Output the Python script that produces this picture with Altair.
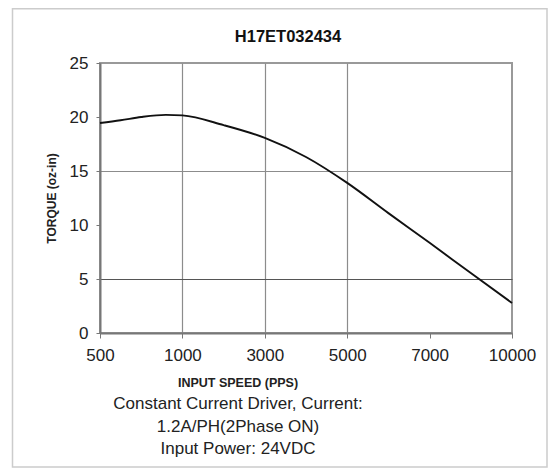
import json
import altair as alt
import pandas as pd

# ---- data ----
speed_labels = ["500", "1000", "3000", "5000", "7000", "10000"]
# positions along the evenly spaced speed axis (category index units)
curve_pos = [0, 0.25, 0.5, 0.8, 1.0, 1.5, 2.0, 2.5, 3.0, 3.5, 4.0, 4.5, 5.0]
torque = [19.45, 19.7, 20.0, 20.2, 20.15, 19.25, 18.07, 16.3, 13.9, 11.1, 8.35, 5.55, 2.78]
y_ticks = [0, 5, 10, 15, 20, 25]
vgrid_pos = [1, 2, 3]
hgrid_light = [15]
hgrid_dark = [5]
title_text = "H17ET032434"
x_title = "INPUT SPEED (PPS)"
y_title = "TORQUE (oz-in)"
note_lines = ["Constant Current Driver, Current:", "1.2A/PH(2Phase ON)", "Input Power: 24VDC"]

FONT = "Liberation Sans"
W, H = 412, 270

df = pd.DataFrame({"pos": curve_pos, "torque": torque})
one = pd.DataFrame({"k": [0]})

xscale = alt.Scale(domain=[0, 5], nice=False, zero=False)
yscale = alt.Scale(domain=[0, 25], nice=False)

label_expr = json.dumps(speed_labels) + "[round(datum.value)]"
vtest = "indexof(" + json.dumps(vgrid_pos) + ", datum.value) >= 0"
htest_all = "indexof(" + json.dumps(hgrid_light + hgrid_dark) + ", datum.value) >= 0"
htest_dark = "indexof(" + json.dumps(hgrid_dark) + ", datum.value) >= 0"

xaxis = alt.Axis(values=list(range(len(speed_labels))), labelExpr=label_expr, grid=True,
                 gridColor="#8c8c8c", gridWidth=1.2,
                 gridOpacity={"condition": {"test": vtest, "value": 1}, "value": 0},
                 title=None, labelFont=FONT, labelFontSize=17, labelColor="#222",
                 tickSize=5, tickColor="#777", domainColor="#777", domainWidth=2,
                 labelPadding=9, labelFlush=False)
yaxis = alt.Axis(values=y_ticks, grid=True,
                 gridColor={"condition": {"test": htest_dark, "value": "#555555"}, "value": "#8c8c8c"},
                 gridOpacity={"condition": {"test": htest_all, "value": 1}, "value": 0},
                 gridWidth=1.2,
                 title=y_title, titleFont=FONT, titleFontSize=12,
                 titleFontWeight="bold", titleColor="#222", titleX=-49, titleY=H / 2,
                 titleAngle=270, titleAlign="center", titleBaseline="middle",
                 labelFont=FONT, labelFontSize=17, labelColor="#222", tickSize=4,
                 tickColor="#777", domainColor="#777", domainWidth=2, labelPadding=8)

line = alt.Chart(df).mark_line(color="#111", strokeWidth=1.9, interpolate="monotone").encode(
    x=alt.X("pos:Q", scale=xscale, axis=xaxis),
    y=alt.Y("torque:Q", scale=yscale, axis=yaxis),
)

frame = alt.Chart(one).mark_rect(fillOpacity=0, stroke="#cccccc", strokeWidth=1.5).encode(
    x=alt.value(-87.5), x2=alt.value(447), y=alt.value(-54.25), y2=alt.value(404))

title = alt.Chart(one).mark_text(font=FONT, fontSize=16.5, fontWeight="bold", color="#111",
                                 align="center", baseline="middle").encode(
    x=alt.value(188), y=alt.value(-26), text=alt.value(title_text))

xlab = alt.Chart(one).mark_text(font=FONT, fontSize=12.5, fontWeight="bold", color="#222",
                                align="center", baseline="middle").encode(
    x=alt.value(138), y=alt.value(320), text=alt.value(x_title))

note = alt.Chart(one).mark_text(font=FONT, fontSize=17, color="#222", align="center",
                                baseline="middle", lineHeight=22.5).encode(
    x=alt.value(138), y=alt.value(341), text=alt.value(note_lines))

chart = alt.layer(frame, line, title, xlab, note).properties(
    width=W, height=H,
    padding={"left": 92, "top": 55, "right": 36, "bottom": 135},
    autosize=alt.AutoSizeParams(type="none"),
    background="white",
).configure_view(stroke="#999", strokeWidth=2)

chart.save("out.html", embed_options={"renderer": "svg", "actions": False})
